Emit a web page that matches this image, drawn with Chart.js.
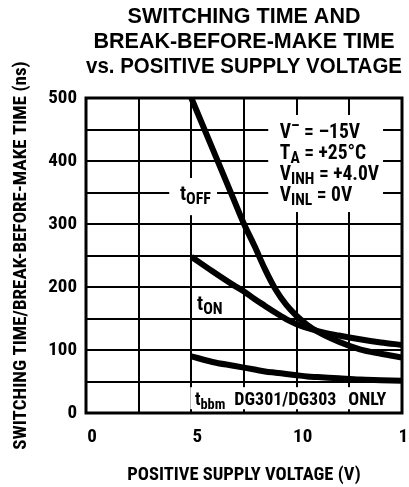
<!DOCTYPE html>
<html><head><meta charset="utf-8">
<script src="https://cdn.jsdelivr.net/npm/chart.js@4.4.1/dist/chart.umd.min.js"></script>
<style>html,body{margin:0;padding:0;background:#fff}#wrap{width:409px;height:487px}</style>
</head><body><div id="wrap"><canvas id="c" width="409" height="487"></canvas></div>
<script>
// ---- data ----
const voltage = [5, 6, 7, 7.5, 8, 8.5, 9, 9.5, 10, 10.5, 11, 12, 13, 14, 15];
const tOff    = [500, 420, 340, 300, 265, 228, 196, 172, 154, 140, 129, 113, 101, 94, 88];
const tOn     = [248, 225, 203, 193, 181, 170, 159, 149, 141, 135, 130, 123, 117, 112, 108];
const tBbm    = [90, 81, 75, 72, 69, 66, 64, 62, 60, 58, 57, 55, 53, 52, 51];
const xTickLabels = ['0', '5', '10', '15'];
const yTickLabels = ['0', '100', '200', '300', '400', '500'];
const titleLines = ['SWITCHING TIME AND', 'BREAK-BEFORE-MAKE TIME', 'vs. POSITIVE SUPPLY VOLTAGE'];
const xTitle = 'POSITIVE SUPPLY VOLTAGE (V)';
const yTitle = 'SWITCHING TIME/BREAK-BEFORE-MAKE TIME (ns)';
const conditionLines = [
  [['V', ''], ['\u2013', 'sup'], [' = \u201315V', '']],
  [['T', ''], ['A', 'sub'], [' = +25\u00B0C', '']],
  [['V', ''], ['INH', 'sub'], [' = +4.0V', '']],
  [['V', ''], ['INL', 'sub'], [' = 0V', '']]
];
const curveLabels = [
  {at: [4.46, 338], size: 20, parts: [['t', ''], ['OFF', 'sub']]},
  {at: [5.27, 163], size: 20, parts: [['t', ''], ['ON', 'sub']]},
  {at: [5.17, 12.5], size: 18, parts: [['t', ''], ['bbm', 'sub'], [9, 'gap'], ['DG301/DG303', ''], [12, 'gap'], ['ONLY', '']]}
];

const NARROW = "'Roboto Condensed', 'Open Sans Condensed', sans-serif";
const pts = (ys) => voltage.map((v, i) => ({x: v, y: ys[i]}));

// white boxes behind annotations (value space)
const boxes = [
  {x0: 8.65, x1: 14.1, y0: 473, y1: 319},
  {x0: 3.95, x1: 6.22, y0: 373, y1: 314},
  {x0: 4.95, x1: 14.43, y0: 41, y1: 6}
];

function drawRich(ctx, x, y, parts, size) {
  let cx = x;
  for (const [txt, kind] of parts) {
    if (kind === 'gap') { cx += txt; continue; }
    let s = size, dy = 0;
    if (kind === 'sub') { s = size * 0.8; dy = 4; }
    if (kind === 'sup') { s = size * 0.8; dy = -7; }
    ctx.font = 'bold ' + s + 'px ' + NARROW;
    ctx.fillText(txt, cx, y + dy);
    cx += ctx.measureText(txt).width;
  }
}

const annot = {
  id: 'annot',
  beforeDatasetsDraw(chart) {
    const {ctx, scales: {x, y}} = chart;
    ctx.save();
    ctx.fillStyle = '#fff';
    for (const b of boxes) {
      const px0 = x.getPixelForValue(b.x0), px1 = x.getPixelForValue(b.x1);
      const py0 = y.getPixelForValue(b.y0), py1 = y.getPixelForValue(b.y1);
      ctx.fillRect(px0, py0, px1 - px0, py1 - py0);
    }
    ctx.fillStyle = '#000';
    ctx.textBaseline = 'alphabetic';
    ctx.textAlign = 'left';
    const cx = x.getPixelForValue(9.2);
    const cy = y.getPixelForValue(436.5);
    conditionLines.forEach((ln, i) => drawRich(ctx, cx, cy + i * 21, ln, 19.5));
    for (const l of curveLabels) {
      drawRich(ctx, x.getPixelForValue(l.at[0]), y.getPixelForValue(l.at[1]), l.parts, l.size);
    }
    ctx.restore();
  },
  afterDatasetsDraw(chart) {
    const {ctx, chartArea: a} = chart;
    ctx.save();
    ctx.strokeStyle = '#000';
    ctx.lineWidth = 3;
    ctx.strokeRect(a.left, a.top, a.right - a.left, a.bottom - a.top);
    ctx.restore();
  }
};

const lineDs = (label, ys) => ({
  label, data: pts(ys), borderColor: '#000', borderWidth: 6,
  pointRadius: 0, fill: false, cubicInterpolationMode: 'monotone', borderCapStyle: 'butt'
});

new Chart(document.getElementById('c'), {
  type: 'line',
  data: {datasets: [lineDs('tOFF', tOff), lineDs('tON', tOn), lineDs('tbbm', tBbm)]},
  options: {
    responsive: false, animation: false, devicePixelRatio: 1,
    layout: {padding: {left: 0, right: 7, top: 0, bottom: 0}},
    plugins: {
      legend: {display: false}, tooltip: {enabled: false},
      title: {
        display: true, text: titleLines, fullSize: false, color: '#000',
        font: {family: "'Liberation Sans', Arial, sans-serif", size: 21.5, weight: 'bold', lineHeight: 25 / 21.5},
        padding: {top: 5, bottom: 18}
      }
    },
    scales: {
      x: {
        type: 'linear', min: 0, max: 15,
        border: {display: false},
        grid: {color: '#000', lineWidth: 2, drawTicks: false},
        ticks: {
          stepSize: 2.5, autoSkip: false, maxRotation: 0, color: '#000', padding: 13, labelOffset: 6,
          font: {family: NARROW, size: 19, weight: 'bold'},
          callback: (v) => xTickLabels.includes(String(v)) ? String(v) : ''
        },
        title: {display: true, text: xTitle, color: '#000', padding: {top: 0, bottom: 1},
          font: {family: NARROW, size: 18.5, weight: 'bold', lineHeight: 1.2}},
        afterFit: (ax) => { ax.height = 74; ax.paddingLeft = 0; ax.paddingRight = 0; }
      },
      y: {
        min: 0, max: 500,
        border: {display: false},
        grid: {color: '#000', lineWidth: 2, drawTicks: false},
        ticks: {
          stepSize: 50, autoSkip: false, color: '#000', padding: 9,
          font: {family: NARROW, size: 19, weight: 'bold'},
          callback: (v) => yTickLabels.includes(String(v)) ? String(v) : ''
        },
        title: {display: true, text: yTitle, color: '#000', padding: {top: 10, bottom: 0},
          font: {family: NARROW, size: 19, weight: 'bold', lineHeight: 1.2}},
        afterFit: (ax) => { ax.width = 86; ax.paddingTop = 0; ax.paddingBottom = 0; }
      }
    }
  },
  plugins: [annot]
});
</script></body></html>
